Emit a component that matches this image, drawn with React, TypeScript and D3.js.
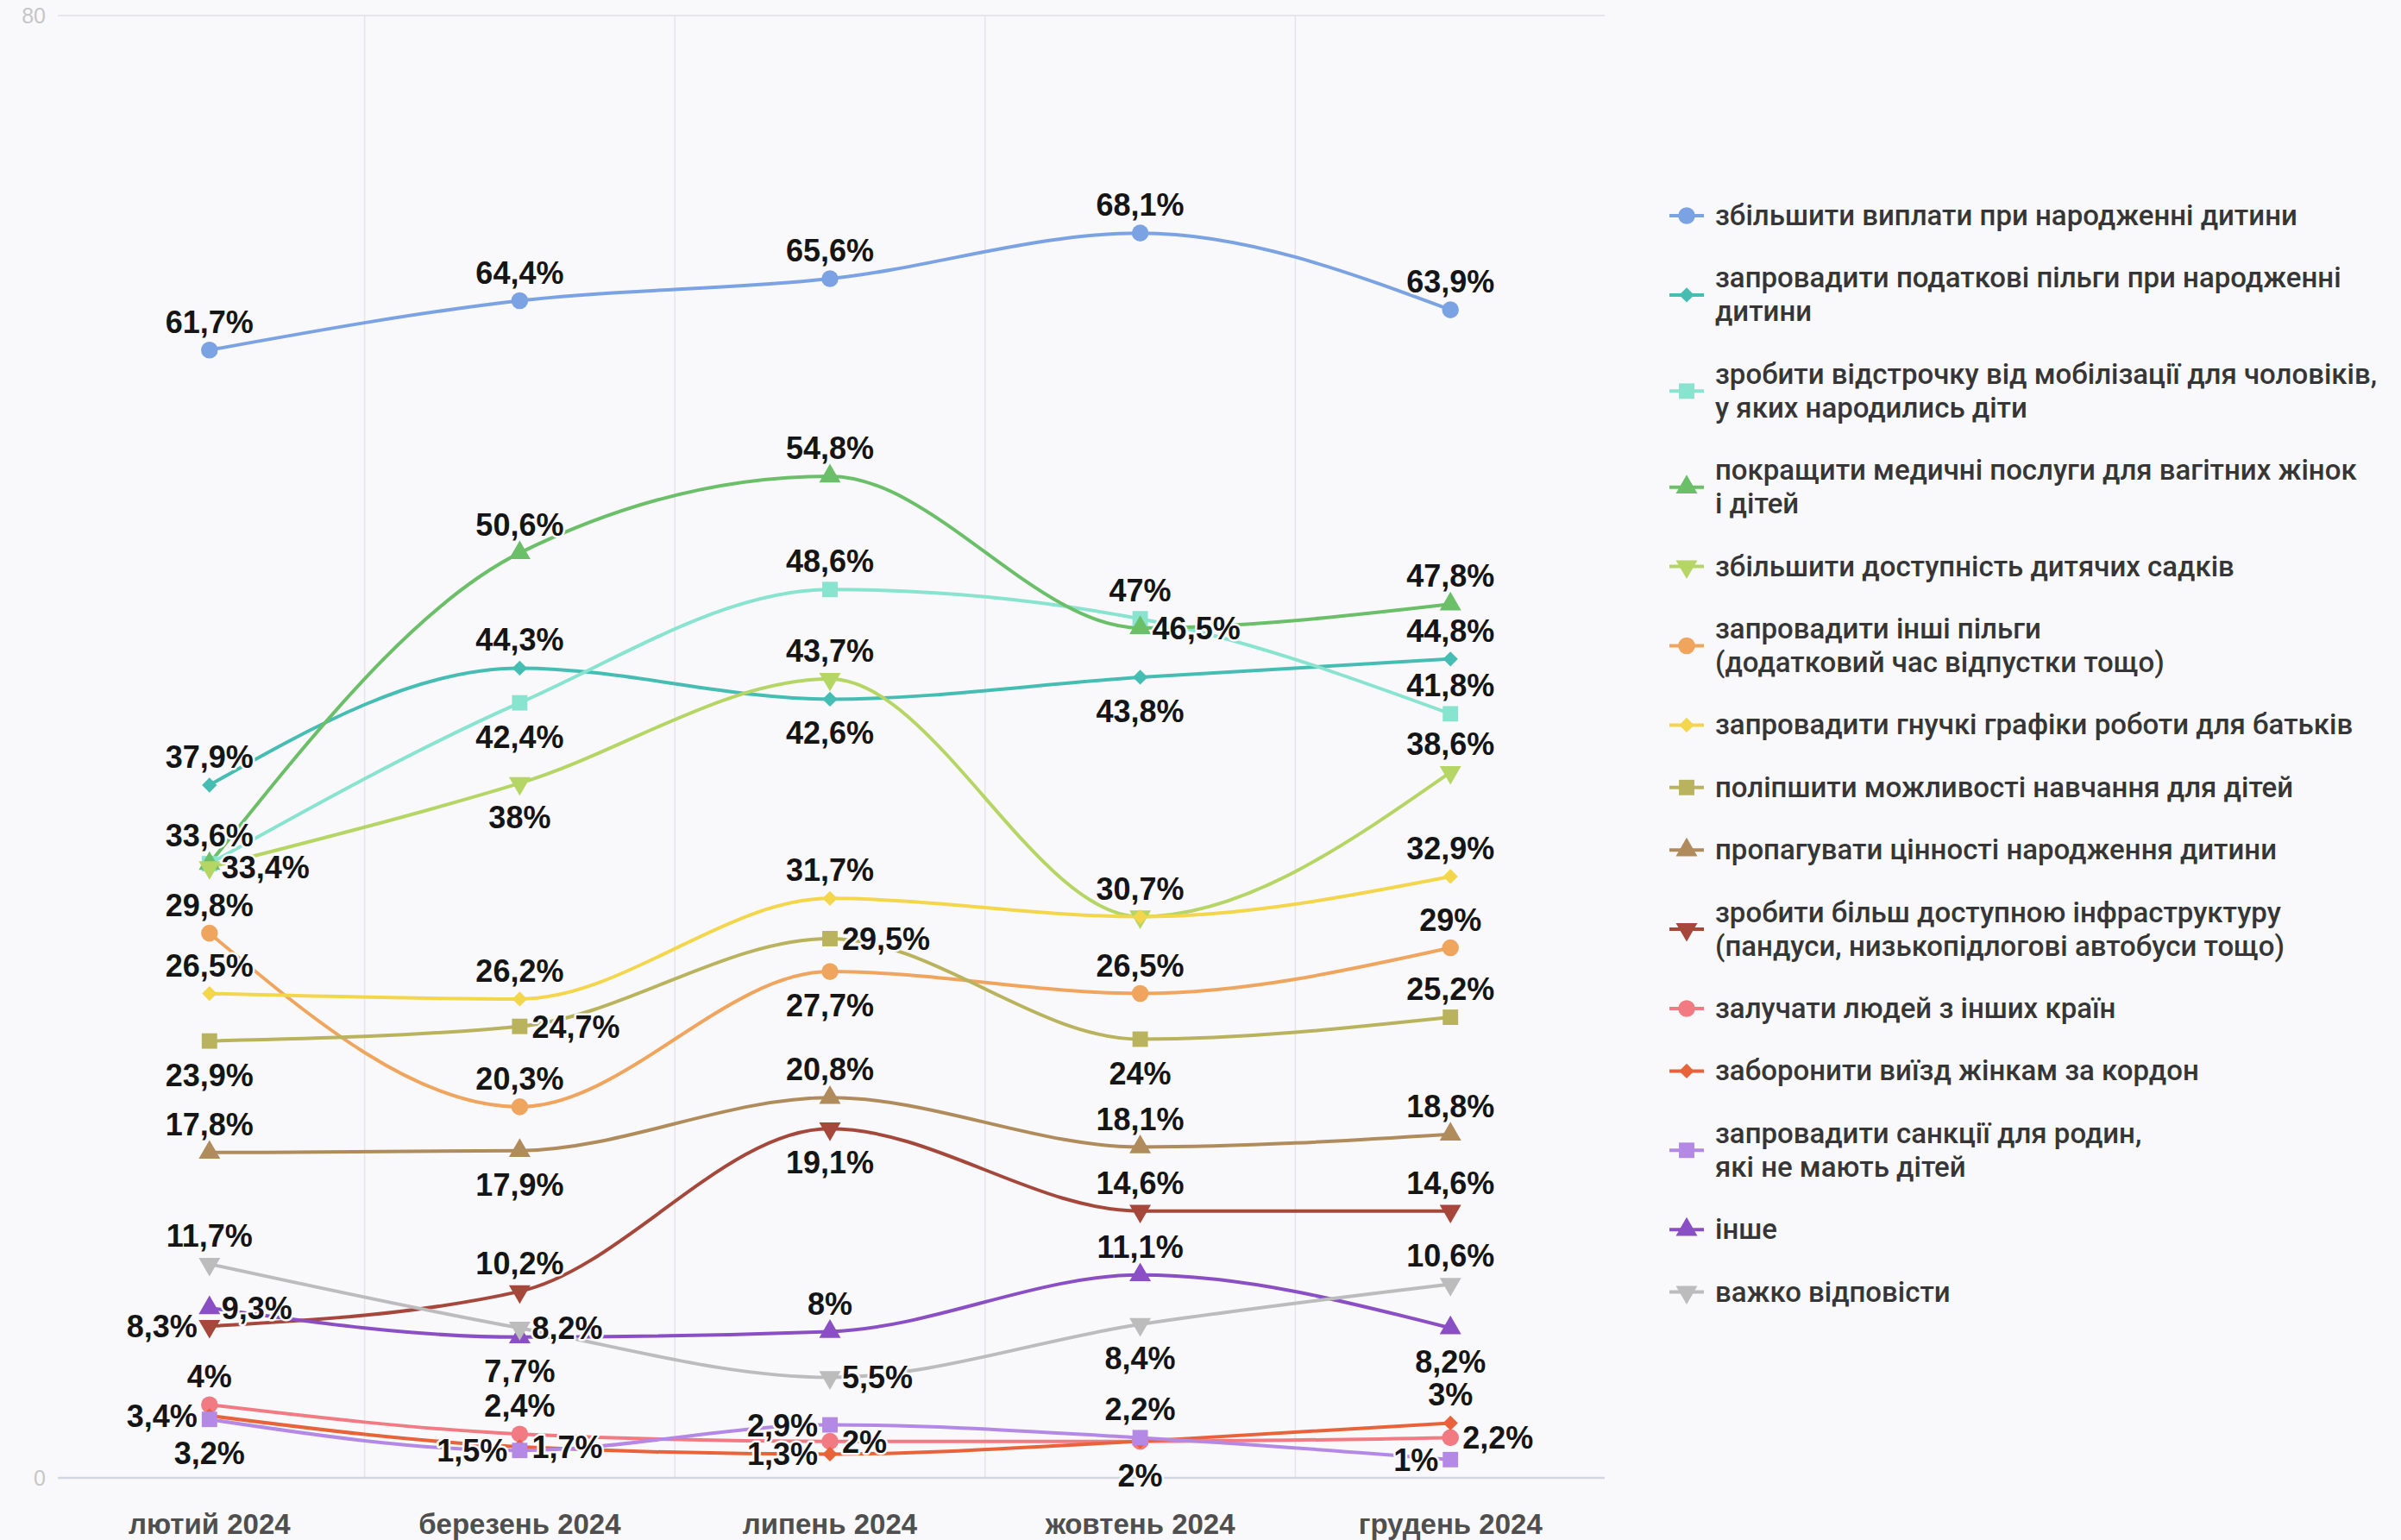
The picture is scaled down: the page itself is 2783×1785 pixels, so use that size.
import { useEffect } from "react";
import * as d3 from "d3";

const months = ["лютий 2024", "березень 2024", "липень 2024", "жовтень 2024", "грудень 2024"];

const seriesNames = [
  "збільшити виплати при народженні дитини",
  "запровадити податкові пільги при народженні\nдитини",
  "зробити відстрочку від мобілізації для чоловіків,\nу яких народились діти",
  "покращити медичні послуги для вагітних жінок\nі дітей",
  "збільшити доступність дитячих садків",
  "запровадити інші пільги\n(додатковий час відпустки тощо)",
  "запровадити гнучкі графіки роботи для батьків",
  "поліпшити можливості навчання для дітей",
  "пропагувати цінності народження дитини",
  "зробити більш доступною інфраструктуру\n(пандуси, низькопідлогові автобуси тощо)",
  "залучати людей з інших країн",
  "заборонити виїзд жінкам за кордон",
  "запровадити санкції для родин,\nякі не мають дітей",
  "інше",
  "важко відповісти",
];

const seriesValues = [
  [61.7, 64.4, 65.6, 68.1, 63.9],
  [37.9, 44.3, 42.6, 43.8, 44.8],
  [33.6, 42.4, 48.6, 47, 41.8],
  [33.6, 50.6, 54.8, 46.5, 47.8],
  [33.4, 38, 43.7, 30.7, 38.6],
  [29.8, 20.3, 27.7, 26.5, 29],
  [26.5, 26.2, 31.7, 30.7, 32.9],
  [23.9, 24.7, 29.5, 24, 25.2],
  [17.8, 17.9, 20.8, 18.1, 18.8],
  [8.3, 10.2, 19.1, 14.6, 14.6],
  [4, 2.4, 2, 2, 2.2],
  [3.4, 1.7, 1.3, 2, 3],
  [3.2, 1.5, 2.9, 2.2, 1],
  [9.3, 7.7, 8, 11.1, 8.2],
  [11.7, 8.2, 5.5, 8.4, 10.6],
];

// where each value label sits: t = above, b = below, r = right, l = left, n = hidden
const labelSides = [
  ["t", "t", "t", "t", "t"],
  ["t", "t", "b", "b", "t"],
  ["t", "b", "t", "t", "t"],
  ["n", "t", "t", "r", "t"],
  ["r", "b", "t", "t", "t"],
  ["t", "t", "b", "t", "t"],
  ["t", "t", "t", "n", "t"],
  ["b", "r", "r", "b", "t"],
  ["t", "b", "t", "t", "t"],
  ["l", "t", "b", "t", "t"],
  ["t", "t", "r", "n", "r"],
  ["l", "r", "l", "b", "t"],
  ["b", "l", "l", "t", "l"],
  ["r", "b", "t", "t", "b"],
  ["t", "r", "r", "b", "t"],
];

const colors = [
  "#7ba3e3", "#45bdb3", "#88e3cf", "#6bbf68", "#b5d565",
  "#f0a55f", "#f4d64c", "#b8b35c", "#b08c5c", "#a5473b",
  "#f27a82", "#e8633a", "#b489e6", "#8a4fc4", "#bcbcbc",
];

const shapes = [
  "circle", "diamond", "square", "up", "down",
  "circle", "diamond", "square", "up", "down",
  "circle", "diamond", "square", "up", "down",
];

const W = 2783;
const H = 1785;
const BG = "#f9f9fc";

function markerPath(shape: string) {
  if (shape === "circle") return d3.symbol(d3.symbolCircle, 300)()!;
  if (shape === "diamond") return d3.symbol(d3.symbolDiamond2, 190)()!;
  if (shape === "square") return d3.symbol(d3.symbolSquare, 320)()!;
  return d3.symbol(d3.symbolTriangle, 270)()!;
}

function fmt(v: number) {
  return String(v).replace(".", ",") + "%";
}

export default function App() {
  useEffect(() => {
    document.body.style.margin = "0";
    document.body.style.background = BG;
  }, []);

  const x = d3.scalePoint<string>().domain(months).range([63, 1861]).padding(0.5);
  const y = d3.scaleLinear().domain([0, 80]).range([1713, 18]);
  const step = x.step();
  const line = d3
    .line<number>()
    .x((_, i) => x(months[i])!)
    .y((d) => y(d))
    .curve(d3.curveMonotoneX);

  const left = 67;
  const right = 1860;

  // legend layout
  const legendX = 1955;
  const lineH = 39;
  let cursor = 250;
  const legendItems = seriesNames.map((name, i) => {
    const lines = name.split("\n");
    const top = cursor;
    cursor += (lines.length - 1) * lineH + 72.4;
    return { lines, top, i };
  });

  const font = "'Liberation Sans', Arial, sans-serif";

  return (
    <svg width={W} height={H} style={{ display: "block", background: BG }} fontFamily={font}>
      <rect width={W} height={H} fill={BG} />
      {/* grid */}
      <line x1={left} x2={right} y1={y(80)} y2={y(80)} stroke="#e7e7eb" strokeWidth={2} />
      {months.slice(1).map((m) => (
        <line
          key={m}
          x1={x(m)! - step / 2}
          x2={x(m)! - step / 2}
          y1={y(80)}
          y2={y(0)}
          stroke="#e4e4e9"
          strokeWidth={1.5}
        />
      ))}
      <line x1={left} x2={right} y1={y(0)} y2={y(0)} stroke="#d3d8e0" strokeWidth={2.5} />
      {[0, 80].map((t) => (
        <text key={t} x={53} y={y(t) + 9} textAnchor="end" fontSize={25} fill="#c6c6c6">
          {t}
        </text>
      ))}
      {months.map((m) => (
        <text key={m} x={x(m)} y={1778} textAnchor="middle" fontSize={33} fontWeight="bold" fill="#4f4f4f">
          {m}
        </text>
      ))}

      {/* lines */}
      {seriesValues.map((vals, i) => (
        <path key={i} d={line(vals)!} fill="none" stroke={colors[i]} strokeWidth={4} />
      ))}
      {/* markers */}
      {seriesValues.map((vals, i) =>
        vals.map((v, j) => (
          <path
            key={i + "-" + j}
            d={markerPath(shapes[i])}
            transform={`translate(${x(months[j])},${y(v)})${shapes[i] === "down" ? " rotate(180)" : ""}`}
            fill={colors[i]}
          />
        ))
      )}
      {/* value labels */}
      {seriesValues.map((vals, i) =>
        vals.map((v, j) => {
          const side = labelSides[i][j];
          if (side === "n") return null;
          const cx = x(months[j])!;
          const cy = y(v);
          let tx = cx;
          let ty = cy;
          let anchor = "middle";
          if (side === "t") ty = cy - 20;
          else if (side === "b") ty = cy + 52;
          else if (side === "r") {
            tx = cx + 14;
            ty = cy + 13;
            anchor = "start";
          } else {
            tx = cx - 14;
            ty = cy + 13;
            anchor = "end";
          }
          return (
            <text
              key={"l" + i + "-" + j}
              x={tx}
              y={ty}
              textAnchor={anchor}
              fontSize={36}
              fontWeight="bold"
              fill="#151515"
              stroke={BG}
              strokeWidth={5}
              strokeLinejoin="round"
              paintOrder="stroke"
            >
              {fmt(v)}
            </text>
          );
        })
      )}

      {/* legend */}
      {legendItems.map(({ lines, top, i }) => {
        const my = top + ((lines.length - 1) * lineH) / 2;
        return (
          <g key={"lg" + i}>
            <line x1={legendX - 20} x2={legendX + 20} y1={my} y2={my} stroke={colors[i]} strokeWidth={4} />
            <path
              d={markerPath(shapes[i])}
              transform={`translate(${legendX},${my})${shapes[i] === "down" ? " rotate(180)" : ""}`}
              fill={colors[i]}
            />
            {lines.map((ln, k) => (
              <text
                key={k}
                x={1988}
                y={top + k * lineH + 11}
                fontSize={33}
                fontWeight={500}
                fontFamily="Roboto, 'Liberation Sans', sans-serif"
                fill="#363636"
              >
                {ln}
              </text>
            ))}
          </g>
        );
      })}
    </svg>
  );
}
